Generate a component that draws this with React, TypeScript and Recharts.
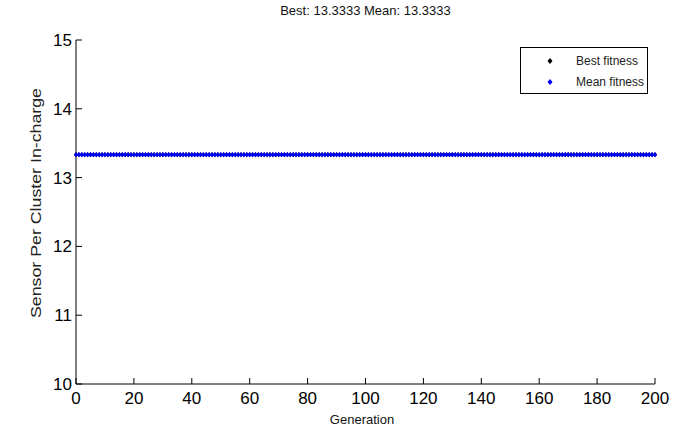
import { LineChart, Line, XAxis, YAxis } from 'recharts'

// generation index runs 0..200
const bestFitness = [
  13.3333, 13.3333, 13.3333, 13.3333, 13.3333, 13.3333, 13.3333, 13.3333, 13.3333, 13.3333,
  13.3333, 13.3333, 13.3333, 13.3333, 13.3333, 13.3333, 13.3333, 13.3333, 13.3333, 13.3333,
  13.3333, 13.3333, 13.3333, 13.3333, 13.3333, 13.3333, 13.3333, 13.3333, 13.3333, 13.3333,
  13.3333, 13.3333, 13.3333, 13.3333, 13.3333, 13.3333, 13.3333, 13.3333, 13.3333, 13.3333,
  13.3333, 13.3333, 13.3333, 13.3333, 13.3333, 13.3333, 13.3333, 13.3333, 13.3333, 13.3333,
  13.3333, 13.3333, 13.3333, 13.3333, 13.3333, 13.3333, 13.3333, 13.3333, 13.3333, 13.3333,
  13.3333, 13.3333, 13.3333, 13.3333, 13.3333, 13.3333, 13.3333, 13.3333, 13.3333, 13.3333,
  13.3333, 13.3333, 13.3333, 13.3333, 13.3333, 13.3333, 13.3333, 13.3333, 13.3333, 13.3333,
  13.3333, 13.3333, 13.3333, 13.3333, 13.3333, 13.3333, 13.3333, 13.3333, 13.3333, 13.3333,
  13.3333, 13.3333, 13.3333, 13.3333, 13.3333, 13.3333, 13.3333, 13.3333, 13.3333, 13.3333,
  13.3333, 13.3333, 13.3333, 13.3333, 13.3333, 13.3333, 13.3333, 13.3333, 13.3333, 13.3333,
  13.3333, 13.3333, 13.3333, 13.3333, 13.3333, 13.3333, 13.3333, 13.3333, 13.3333, 13.3333,
  13.3333, 13.3333, 13.3333, 13.3333, 13.3333, 13.3333, 13.3333, 13.3333, 13.3333, 13.3333,
  13.3333, 13.3333, 13.3333, 13.3333, 13.3333, 13.3333, 13.3333, 13.3333, 13.3333, 13.3333,
  13.3333, 13.3333, 13.3333, 13.3333, 13.3333, 13.3333, 13.3333, 13.3333, 13.3333, 13.3333,
  13.3333, 13.3333, 13.3333, 13.3333, 13.3333, 13.3333, 13.3333, 13.3333, 13.3333, 13.3333,
  13.3333, 13.3333, 13.3333, 13.3333, 13.3333, 13.3333, 13.3333, 13.3333, 13.3333, 13.3333,
  13.3333, 13.3333, 13.3333, 13.3333, 13.3333, 13.3333, 13.3333, 13.3333, 13.3333, 13.3333,
  13.3333, 13.3333, 13.3333, 13.3333, 13.3333, 13.3333, 13.3333, 13.3333, 13.3333, 13.3333,
  13.3333, 13.3333, 13.3333, 13.3333, 13.3333, 13.3333, 13.3333, 13.3333, 13.3333, 13.3333,
  13.3333,
]

const meanFitness = [
  13.3333, 13.3333, 13.3333, 13.3333, 13.3333, 13.3333, 13.3333, 13.3333, 13.3333, 13.3333,
  13.3333, 13.3333, 13.3333, 13.3333, 13.3333, 13.3333, 13.3333, 13.3333, 13.3333, 13.3333,
  13.3333, 13.3333, 13.3333, 13.3333, 13.3333, 13.3333, 13.3333, 13.3333, 13.3333, 13.3333,
  13.3333, 13.3333, 13.3333, 13.3333, 13.3333, 13.3333, 13.3333, 13.3333, 13.3333, 13.3333,
  13.3333, 13.3333, 13.3333, 13.3333, 13.3333, 13.3333, 13.3333, 13.3333, 13.3333, 13.3333,
  13.3333, 13.3333, 13.3333, 13.3333, 13.3333, 13.3333, 13.3333, 13.3333, 13.3333, 13.3333,
  13.3333, 13.3333, 13.3333, 13.3333, 13.3333, 13.3333, 13.3333, 13.3333, 13.3333, 13.3333,
  13.3333, 13.3333, 13.3333, 13.3333, 13.3333, 13.3333, 13.3333, 13.3333, 13.3333, 13.3333,
  13.3333, 13.3333, 13.3333, 13.3333, 13.3333, 13.3333, 13.3333, 13.3333, 13.3333, 13.3333,
  13.3333, 13.3333, 13.3333, 13.3333, 13.3333, 13.3333, 13.3333, 13.3333, 13.3333, 13.3333,
  13.3333, 13.3333, 13.3333, 13.3333, 13.3333, 13.3333, 13.3333, 13.3333, 13.3333, 13.3333,
  13.3333, 13.3333, 13.3333, 13.3333, 13.3333, 13.3333, 13.3333, 13.3333, 13.3333, 13.3333,
  13.3333, 13.3333, 13.3333, 13.3333, 13.3333, 13.3333, 13.3333, 13.3333, 13.3333, 13.3333,
  13.3333, 13.3333, 13.3333, 13.3333, 13.3333, 13.3333, 13.3333, 13.3333, 13.3333, 13.3333,
  13.3333, 13.3333, 13.3333, 13.3333, 13.3333, 13.3333, 13.3333, 13.3333, 13.3333, 13.3333,
  13.3333, 13.3333, 13.3333, 13.3333, 13.3333, 13.3333, 13.3333, 13.3333, 13.3333, 13.3333,
  13.3333, 13.3333, 13.3333, 13.3333, 13.3333, 13.3333, 13.3333, 13.3333, 13.3333, 13.3333,
  13.3333, 13.3333, 13.3333, 13.3333, 13.3333, 13.3333, 13.3333, 13.3333, 13.3333, 13.3333,
  13.3333, 13.3333, 13.3333, 13.3333, 13.3333, 13.3333, 13.3333, 13.3333, 13.3333, 13.3333,
  13.3333, 13.3333, 13.3333, 13.3333, 13.3333, 13.3333, 13.3333, 13.3333, 13.3333, 13.3333,
  13.3333,
]

const xTicks = [0, 20, 40, 60, 80, 100, 120, 140, 160, 180, 200]
const yTicks = [10, 11, 12, 13, 14, 15]
const legendItems = [
  { name: 'Best fitness', color: '#000' },
  { name: 'Mean fitness', color: '#0000ff' },
]

const data = bestFitness.map((v, i) => ({ gen: i, best: v, mean: meanFitness[i] }))

const FONT = '"Liberation Sans", Arial, sans-serif'

const Diamond = (color: string, r: number) => (props: any) => {
  const { cx, cy, index } = props
  if (cx == null || cy == null) return <g key={index} />
  return (
    <polygon
      key={index}
      points={`${cx},${cy - r} ${cx + r * 0.8},${cy} ${cx},${cy + r} ${cx - r * 0.8},${cy}`}
      fill={color}
    />
  )
}

const XTick = (props: any) => {
  const { x, y, payload } = props
  return (
    <g>
      <line x1={x} x2={x} y1={y} y2={y - 6} stroke="#000" />
      <text x={x} y={y + 20} textAnchor="middle" fontSize={17} fontFamily={FONT} fill="#000">
        {payload.value}
      </text>
    </g>
  )
}

const YTick = (props: any) => {
  const { x, y, payload } = props
  return (
    <g>
      <line x1={x} x2={x + 6} y1={y} y2={y} stroke="#000" />
      <text x={x - 4} y={y + 6} textAnchor="end" fontSize={17} fontFamily={FONT} fill="#000">
        {payload.value}
      </text>
    </g>
  )
}

const LegendBox = () => (
  <div
    style={{
      position: 'absolute', left: 520, top: 47, width: 126, height: 45,
      border: '1px solid #000', background: '#fff',
      fontFamily: FONT, fontSize: 12, color: '#222', zIndex: 2,
    }}
  >
    {legendItems.map((it, i) => (
      <div key={it.name} style={{ position: 'absolute', left: 0, top: 6 + i * 21, height: 14, display: 'flex', alignItems: 'center' }}>
        <svg width={40} height={14}>
          <polygon points="29,4 31.5,7 29,10 26.5,7" fill={it.color} />
        </svg>
        <span style={{ marginLeft: 15 }}>{it.name}</span>
      </div>
    ))}
  </div>
)

export default function App() {
  return (
    <div style={{ position: 'absolute', left: 0, top: 0, width: 681, height: 432, background: '#fff' }}>
      <div
        style={{
          position: 'absolute', left: 76, width: 579, top: 3, textAlign: 'center',
          fontFamily: FONT, fontSize: 13, color: '#111',
        }}
      >
        Best: 13.3333 Mean: 13.3333
      </div>
      <LegendBox />
      <LineChart width={681} height={432} data={data} margin={{ top: 40, right: 26, bottom: 0, left: 0 }}>
        <XAxis
          dataKey="gen"
          type="number"
          domain={[0, 200]}
          ticks={xTicks}
          height={48}
          tickSize={0}
          tickMargin={0}
          tick={<XTick />}
          tickLine={false}
          axisLine={{ stroke: '#000' }}
          label={{
            content: () => (
              <text x={362} y={424} textAnchor="middle" fontSize={13} fontFamily={FONT} fill="#111">
                Generation
              </text>
            ),
          }}
        />
        <YAxis
          type="number"
          domain={[10, 15]}
          ticks={yTicks}
          width={76}
          tickSize={0}
          tickMargin={0}
          tick={<YTick />}
          tickLine={false}
          axisLine={{ stroke: '#000' }}
          label={{
            content: () => (
              <text
                x={0}
                y={0}
                transform="translate(41,203) rotate(-90)"
                textAnchor="middle"
                fontSize={14}
                fontFamily={FONT}
                fill="#222"
                textLength={230}
                lengthAdjust="spacingAndGlyphs"
              >
                Sensor Per Cluster In-charge
              </text>
            ),
          }}
        />
        <Line
          dataKey="best"
          name="Best fitness"
          stroke="none"
          dot={Diamond('#000', 2.6)}
          isAnimationActive={false}
        />
        <Line
          dataKey="mean"
          name="Mean fitness"
          stroke="none"
          dot={Diamond('#0000ff', 2.6)}
          isAnimationActive={false}
        />
      </LineChart>
    </div>
  )
}
